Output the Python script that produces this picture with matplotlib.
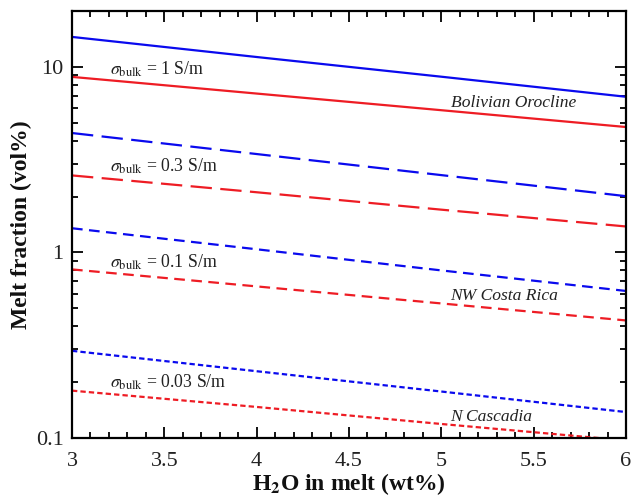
import matplotlib
matplotlib.use('Agg')
import matplotlib.pyplot as plt
from matplotlib.ticker import MultipleLocator, FixedLocator, LogLocator, NullFormatter, FormatStrFormatter

plt.rcParams['font.family'] = 'Liberation Serif'
plt.rcParams['mathtext.fontset'] = 'stix'

# H2O in melt (wt%)
h2o = [3, 4, 5, 6]

# melt fraction (vol%) - blue and red curves for each bulk conductivity
blue_1 = [14.5, 11.3, 8.85, 6.9]
red_1 = [8.83, 7.18, 5.84, 4.74]
blue_03 = [4.4, 3.39, 2.61, 2.01]
red_03 = [2.6, 2.11, 1.70, 1.38]
blue_01 = [1.35, 1.04, 0.80, 0.62]
red_01 = [0.81, 0.656, 0.531, 0.43]
blue_003 = [0.295, 0.229, 0.178, 0.138]
red_003 = [0.18, 0.147, 0.119, 0.097]

sigma_labels = ['1', '0.3', '0.1', '0.03']
sigma_y = [9.75, 2.92, 0.89, 0.20]
regions = ['Bolivian Orocline', 'NW Costa Rica', 'N Cascadia']
region_y = [6.38, 0.586, 0.130]

blu = '#0a0aee'
red = '#ee1c24'
lw = 1.6

fig = plt.figure(figsize=(6.33, 4.98), dpi=100)
ax = fig.add_axes([72/633, 1-438/498, (626-72)/633, (438-11)/498])

styles = [(None, None), (9.6, 3.8), (4.8, 2.9), (2.4, 1.4)]
pairs = [(blue_1, red_1), (blue_03, red_03), (blue_01, red_01), (blue_003, red_003)]
for (b, r), st in zip(pairs, styles):
    if st[0] is None:
        ax.plot(h2o, b, color=blu, lw=lw)
        ax.plot(h2o, r, color=red, lw=lw)
    else:
        ax.plot(h2o, b, color=blu, lw=lw, dashes=st)
        ax.plot(h2o, r, color=red, lw=lw, dashes=st)

ax.set_yscale('log')
ax.set_xlim(3, 6)
ax.set_ylim(0.1, 20)

for s, y in zip(sigma_labels, sigma_y):
    ax.text(3.205, y, r'$\sigma_{\rm bulk}$ = ' + s + ' S/m', fontsize=12.8,
            va='center', ha='left', color='#222222')
for t, y in zip(regions, region_y):
    ax.text(5.05, y, t, fontsize=12.6, style='italic', va='center', ha='left',
            color='#222222')

ax.xaxis.set_major_locator(MultipleLocator(0.5))
ax.xaxis.set_minor_locator(MultipleLocator(0.1))
ax.xaxis.set_major_formatter(FormatStrFormatter('%g'))
ax.yaxis.set_major_locator(FixedLocator([0.1, 1, 10]))
ax.yaxis.set_major_formatter(FormatStrFormatter('%g'))
ax.yaxis.set_minor_locator(LogLocator(base=10, subs=range(2, 10)))
ax.yaxis.set_minor_formatter(NullFormatter())

ax.tick_params(which='both', direction='in', top=True, right=True, width=1.3,
               labelsize=16, pad=6, labelcolor='#222222')
ax.tick_params(axis='x', which='major', pad=10)
ax.tick_params(which='major', length=8)
ax.tick_params(which='minor', length=4)
for sp in ax.spines.values():
    sp.set_linewidth(1.6)

ax.set_xlabel(r'H$_\mathbf{2}$O in melt (wt%)', fontsize=17, fontweight='bold', labelpad=0,
              color='#111111')
ax.set_ylabel('Melt fraction (vol%)', fontsize=17, fontweight='bold', labelpad=3,
              color='#111111')

fig.savefig('out.png', dpi=100)
